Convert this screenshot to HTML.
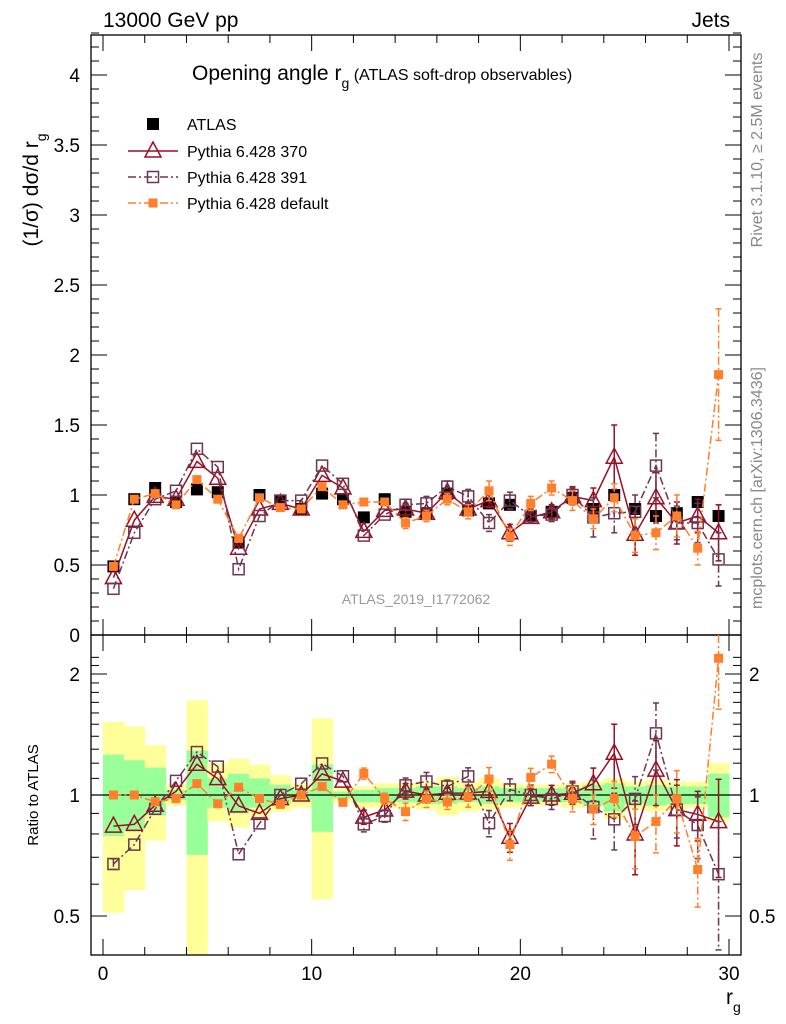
<!DOCTYPE html>
<html><head><meta charset="utf-8"><style>
body{margin:0;background:#fff}
svg{display:block;font-family:"Liberation Sans",Arial,sans-serif}
</style></head><body>
<svg id="c" width="786" height="1024" viewBox="0 0 786 1024">
<g id="g"></g>
</svg>
<script>
const bins=[0.5,1.5,2.5,3.5,4.5,5.5,6.5,7.5,8.5,9.5,10.5,11.5,12.5,13.5,14.5,15.5,16.5,17.5,18.5,19.5,20.5,21.5,22.5,23.5,24.5,25.5,26.5,27.5,28.5,29.5];
const atlas=[0.49,0.97,1.05,0.95,1.04,1.02,0.66,1.00,0.96,0.90,1.01,0.97,0.84,0.97,0.88,0.87,1.01,0.89,0.94,0.93,0.85,0.88,0.98,0.90,1.00,0.90,0.85,0.87,0.95,0.85];
const p370=[0.41,0.82,0.99,0.97,1.24,1.12,0.62,0.90,0.94,0.90,1.14,1.05,0.74,0.89,0.90,0.87,1.02,0.90,0.96,0.73,0.84,0.88,0.99,0.96,1.27,0.72,0.98,0.80,0.85,0.73];
const p391=[0.33,0.73,0.97,1.03,1.33,1.20,0.47,0.85,0.96,0.96,1.21,1.08,0.71,0.86,0.93,0.94,1.06,0.99,0.80,0.96,0.85,0.86,1.00,0.84,0.87,0.88,1.21,0.80,0.80,0.54];
const pdef=[0.49,0.97,1.01,0.93,1.11,0.97,0.69,0.98,0.91,0.90,1.06,0.93,0.95,0.95,0.80,0.85,0.97,0.88,1.03,0.70,0.94,1.05,0.96,0.83,0.98,0.71,0.73,0.85,0.62,1.86];
const e370=[0.01,0.01,0.01,0.01,0.01,0.01,0.01,0.01,0.01,0.01,0.02,0.02,0.03,0.03,0.04,0.03,0.03,0.04,0.05,0.06,0.04,0.05,0.06,0.09,0.23,0.15,0.18,0.15,0.12,0.20];
const e391=[0.01,0.01,0.01,0.01,0.01,0.01,0.01,0.01,0.01,0.01,0.02,0.02,0.03,0.03,0.04,0.05,0.04,0.05,0.06,0.06,0.05,0.05,0.06,0.14,0.14,0.12,0.23,0.12,0.14,0.19];
const edef=[0.01,0.01,0.01,0.01,0.01,0.01,0.01,0.01,0.01,0.01,0.02,0.02,0.03,0.03,0.04,0.04,0.04,0.05,0.07,0.06,0.05,0.05,0.07,0.07,0.10,0.12,0.12,0.15,0.12,0.47];
const yHi=[1.52,1.48,1.33,1.06,1.72,1.20,1.23,1.19,1.12,1.07,1.55,1.04,1.05,1.07,1.07,1.08,1.11,1.08,1.10,1.07,1.06,1.06,1.07,1.08,1.10,1.08,1.09,1.08,1.08,1.20];
const yLo=[0.51,0.58,0.77,0.94,0.30,0.86,0.83,0.88,0.91,0.93,0.55,0.96,0.93,0.93,0.93,0.92,0.89,0.91,0.92,0.93,0.94,0.94,0.93,0.93,0.87,0.92,0.91,0.92,0.93,0.86];
const gHi=[1.26,1.22,1.17,1.03,1.29,1.10,1.13,1.10,1.06,1.03,1.19,1.02,1.03,1.04,1.04,1.05,1.05,1.04,1.05,1.04,1.04,1.04,1.04,1.06,1.07,1.05,1.06,1.05,1.05,1.13];
const gLo=[0.79,0.82,0.89,0.97,0.71,0.93,0.90,0.93,0.95,0.97,0.81,0.98,0.96,0.96,0.96,0.95,0.95,0.96,0.95,0.96,0.96,0.96,0.96,0.94,0.91,0.95,0.94,0.95,0.95,0.88];
const mainTicks=[0,0.5,1,1.5,2,2.5,3,3.5,4];
const mainLabels=["0","0.5","1","1.5","2","2.5","3","3.5","4"];
const xTicks=[0,10,20,30];
const ratioTicks=[0.5,1,2];

const L=91,R=741,T=35,MB=635,RB=955;
const X=v=>103+v*(729-103)/30;
const Y=v=>635-v*140;
const YR=v=>795-Math.log10(v)*402;
const NS="http://www.w3.org/2000/svg";
const g=document.getElementById('g');
function el(tag,at,parent){const e=document.createElementNS(NS,tag);for(const k in at)e.setAttribute(k,at[k]);(parent||g).appendChild(e);return e;}
function txt(s,at,name){const e=el('text',at);e.textContent=s;return e;}

// ratio bands
const bw=X(1)-X(0);
const bandG=el('g',{});
const clip=el('clipPath',{id:'rc'});el('rect',{x:L,y:MB,width:R-L,height:RB-MB},clip);
bandG.setAttribute('clip-path','url(#rc)');
bins.forEach((b,i)=>{
  const y1=el('rect',{x:X(b)-bw/2,y:YR(yHi[i]),width:bw+0.5,height:YR(yLo[i])-YR(yHi[i]),fill:'#ffff99'},bandG);
  
  const g1=el('rect',{x:X(b)-bw/2,y:YR(gHi[i]),width:bw+0.5,height:YR(gLo[i])-YR(gHi[i]),fill:'#99ff99'},bandG);
  
});
el('line',{x1:L,x2:R,y1:YR(1),y2:YR(1),stroke:'#000','stroke-width':1.3});

// frames
const f1=el('rect',{x:L,y:T,width:R-L,height:MB-T,fill:'none',stroke:'#000','stroke-width':1.3});

const f2=el('rect',{x:L,y:MB,width:R-L,height:RB-MB,fill:'none',stroke:'#000','stroke-width':1.3});


// main y ticks
for(let v=0;v<=4.3001;v+=0.1){const y=Y(v);const maj=Math.abs(v*2-Math.round(v*2))<1e-6;const l=maj?16:8;
  el('line',{x1:L,x2:L+l,y1:y,y2:y,stroke:'#000'});el('line',{x1:R,x2:R-l,y1:y,y2:y,stroke:'#000'});}
mainTicks.forEach((v,i)=>txt(mainLabels[i],{x:80,y:Y(v)+7,'font-size':19,'text-anchor':'end'},'y-tick-label'));
// ratio y ticks
[0.4,0.5,0.6,0.7,0.8,0.9,1,1.1,1.2,1.3,1.4,1.5,1.6,1.7,1.8,1.9,2,2.1,2.2].forEach(v=>{const y=YR(v);if(y<MB||y>RB)return;const maj=ratioTicks.includes(v);const l=maj?16:8;
  el('line',{x1:L,x2:L+l,y1:y,y2:y,stroke:'#000'});el('line',{x1:R,x2:R-l,y1:y,y2:y,stroke:'#000'});});
ratioTicks.forEach(v=>{txt(String(v),{x:80,y:YR(v)+7,'font-size':19,'text-anchor':'end'},'ratio-y-tick-label');txt(String(v),{x:749,y:YR(v)+7,'font-size':19},'ratio-y-tick-label-right');});
// x ticks
for(let v=0;v<=31;v+=2){const x=X(v);if(x>R)continue;const maj=v%10===0;const l=maj?16:8;
  el('line',{x1:x,x2:x,y1:RB,y2:RB-l,stroke:'#000'});el('line',{x1:x,x2:x,y1:MB,y2:MB-l,stroke:'#000'});el('line',{x1:x,x2:x,y1:T,y2:T+l,stroke:'#000'});el('line',{x1:x,x2:x,y1:MB,y2:MB+l,stroke:'#000'});}
xTicks.forEach(v=>txt(String(v),{x:X(v),y:980,'font-size':19,'text-anchor':'middle'},'x-tick-label'));

// series
const series=[
 {name:'pythia-370',d:p370,e:e370,c:'#990f26',dash:'',m:'tri'},
 {name:'pythia-391',d:p391,e:e391,c:'#6e3550',dash:'8,3,2,3',m:'osq'},
 {name:'pythia-default',d:pdef,e:edef,c:'#ff7f2a',dash:'8,3,2,3',m:'fsq'}
];
function marker(m,x,y,c,parent){
  if(m==='tri') return el('polygon',{points:`${x},${y-9} ${x-8},${y+6} ${x+8},${y+6}`,fill:'#fff','fill-opacity':0,stroke:c,'stroke-width':1.5},parent);
  if(m==='osq') return el('rect',{x:x-5.5,y:y-5.5,width:11,height:11,fill:'none',stroke:c,'stroke-width':1.5},parent);
  if(m==='fsq') return el('rect',{x:x-4.5,y:y-4.5,width:9,height:9,fill:c},parent);
  return el('rect',{x:x-6,y:y-6,width:12,height:12,fill:c},parent);
}
function drawPanel(yf,ratio,clipId){
  // data
  const dg=el('g',{});
  if(!ratio) bins.forEach((b,i)=>{const m=marker('data',X(b),yf(atlas[i]),'#000',dg);});
  series.forEach(s=>{
    const sg=el('g',{});
    if(clipId) sg.setAttribute('clip-path','url(#'+clipId+')');
    const vals=s.d.map((v,i)=>ratio?v/atlas[i]:v);
    const errs=s.e.map((v,i)=>ratio?v/atlas[i]:v);
    const pl=el('polyline',{points:bins.map((b,i)=>X(b)+','+yf(vals[i])).join(' '),fill:'none',stroke:s.c,'stroke-width':1.5,'stroke-dasharray':s.dash},sg);
    
    bins.forEach((b,i)=>{const x=X(b);const lo=Math.max(vals[i]-errs[i],0.05);const y1=yf(vals[i]+errs[i]),y2=yf(lo);
      if(y2-y1>10){el('line',{x1:x,x2:x,y1:y1,y2:y2,stroke:s.c,'stroke-width':1.5,'stroke-dasharray':s.dash},sg);
        el('line',{x1:x-3,x2:x+3,y1:y1,y2:y1,stroke:s.c,'stroke-width':1.5},sg);el('line',{x1:x-3,x2:x+3,y1:y2,y2:y2,stroke:s.c,'stroke-width':1.5},sg);}
      const mk=marker(s.m,x,yf(vals[i]),s.c,sg);});
  });
}
const cm=el('clipPath',{id:'mc'});el('rect',{x:L,y:T,width:R-L,height:MB-T},cm);
drawPanel(Y,false,'mc');
drawPanel(YR,true,'rc');

// texts
txt('13000 GeV pp',{x:103,y:27,'font-size':21},'energy-label');
txt('Jets',{x:730,y:27,'font-size':21,'text-anchor':'end'},'process-label');
const t1=txt('',{x:192,y:80,'font-size':21},'plot-title');
t1.innerHTML='Opening angle r<tspan font-size="14" dy="8">g</tspan><tspan font-size="16" dy="-8"> (ATLAS soft-drop observables)</tspan>';
const yt=txt('',{transform:'translate(38,190) rotate(-90)','font-size':21,'text-anchor':'middle'},'y-axis-title');
yt.innerHTML='(1/σ) dσ/d r<tspan font-size="14" dy="8">g</tspan>';
txt('Ratio to ATLAS',{transform:'translate(38,795) rotate(-90)','font-size':15,'text-anchor':'middle'},'ratio-axis-title');
const xt=txt('',{x:726,y:1004,'font-size':21},'x-axis-title');xt.innerHTML='r<tspan font-size="14" dy="8">g</tspan>';
txt('ATLAS_2019_I1772062',{x:416,y:604,'font-size':14,fill:'#999','text-anchor':'middle'},'analysis-id');
txt('Rivet 3.1.10, ≥ 2.5M events',{transform:'translate(762,150) rotate(-90)','font-size':16,fill:'#888','text-anchor':'middle'},'rivet-label');
txt('mcplots.cern.ch [arXiv:1306.3436]',{transform:'translate(762,488) rotate(-90)','font-size':16,fill:'#888','text-anchor':'middle'},'mcplots-label');

// legend
const lg=el('g',{});
const le=[['ATLAS','#000','','data',124],['Pythia 6.428 370','#990f26','','tri',151],['Pythia 6.428 391','#6e3550','8,3,2,3','osq',177],['Pythia 6.428 default','#ff7f2a','8,3,2,3','fsq',203]];
le.forEach(([n,c,d,m,y])=>{
  if(m!=='data') el('line',{x1:128,x2:178,y1:y,y2:y,stroke:c,'stroke-width':1.5,'stroke-dasharray':d},lg);
  marker(m,153,y,c,lg);
  const t=el('text',{x:187,y:y+6,'font-size':16},lg);t.textContent=n;
});
</script>
</body></html>
